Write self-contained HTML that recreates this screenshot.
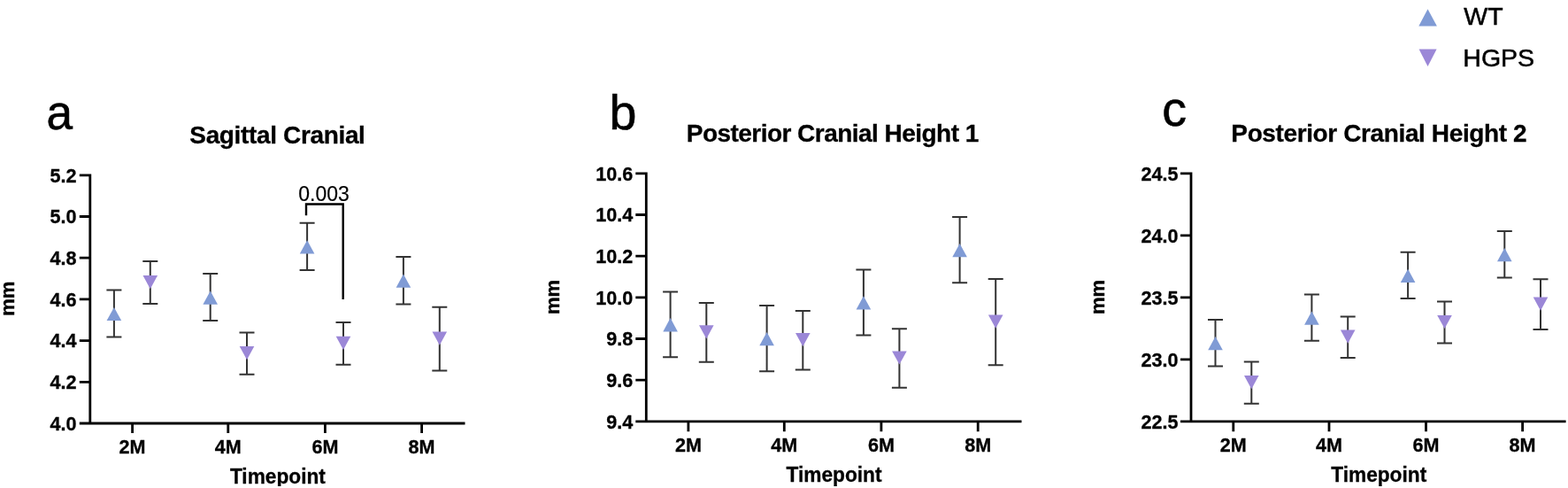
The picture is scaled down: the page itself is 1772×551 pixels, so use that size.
<!DOCTYPE html>
<html><head><meta charset="utf-8"><title>Cranial measurements</title>
<style>
html,body{margin:0;padding:0;background:#fff;}
body{width:1772px;height:551px;overflow:hidden;}
svg{display:block;}
text{font-family:"Liberation Sans",Arial,Helvetica,sans-serif;fill:#000;}
.let{font-size:56px;stroke:#000;stroke-width:0.6px;}
.ttl{font-size:28px;font-weight:bold;stroke:#000;stroke-width:0.3px;}
.tl{font-size:21.6px;font-weight:bold;stroke:#000;stroke-width:0.3px;}
.ax{font-size:22.7px;font-weight:bold;stroke:#000;stroke-width:0.3px;}
.mm{font-size:22px;stroke-width:0.4px;}
.sig{font-size:23px;stroke:#000;stroke-width:0.15px;}
.leg{font-size:28.5px;stroke:#000;stroke-width:0.5px;}
</style></head><body>
<svg width="1772" height="551" viewBox="0 0 1772 551">
<rect width="1772" height="551" fill="#fff"/>
<polygon points="1613.5,10.3 1623.9,29.6 1603.3,29.6" fill="#809bd5"/><polygon points="1603.6,55.6 1623.6,55.6 1613.5,75.1" fill="#9b87d7"/><text class="leg" x="1654.3" y="28.4">WT</text><text class="leg" x="1653.3" y="75.3">HGPS</text>
<path d="M346,243.2V230.5H387.7V338" stroke="#000" stroke-width="2.4" fill="none"/><text class="sig" x="366" y="226.6" text-anchor="middle">0.003</text>
<text class="let" style="font-size:56px" transform="translate(52.4,146) scale(0.95,1)">a</text>
<text class="ttl" x="313.6" y="161.7" text-anchor="middle" textLength="198.6">Sagittal Cranial</text>
<text class="tl" transform="translate(86.6,205.5) scale(1,1.05)" text-anchor="end">5.2</text>
<text class="tl" transform="translate(86.6,252.2) scale(1,1.05)" text-anchor="end">5.0</text>
<text class="tl" transform="translate(86.6,298.9) scale(1,1.05)" text-anchor="end">4.8</text>
<text class="tl" transform="translate(86.6,345.6) scale(1,1.05)" text-anchor="end">4.6</text>
<text class="tl" transform="translate(86.6,392.3) scale(1,1.05)" text-anchor="end">4.4</text>
<text class="tl" transform="translate(86.6,439.0) scale(1,1.05)" text-anchor="end">4.2</text>
<text class="tl" transform="translate(86.6,485.7) scale(1,1.05)" text-anchor="end">4.0</text>
<text class="tl" transform="translate(149.6,512.1) scale(1,1.05)" text-anchor="middle">2M</text>
<text class="tl" transform="translate(257.8,512.1) scale(1,1.05)" text-anchor="middle">4M</text>
<text class="tl" transform="translate(367.4,512.1) scale(1,1.05)" text-anchor="middle">6M</text>
<text class="tl" transform="translate(476.6,512.1) scale(1,1.05)" text-anchor="middle">8M</text>
<path d="M101.8,196.4V478.0 M89.8,478.0H525.5 M89.8,197.8H101.8 M89.8,244.5H101.8 M89.8,291.2H101.8 M89.8,337.9H101.8 M89.8,384.6H101.8 M89.8,431.3H101.8 M89.8,478.0H101.8 M149.6,478.0V489.0 M257.8,478.0V489.0 M367.4,478.0V489.0 M476.6,478.0V489.0" stroke="#000" stroke-width="2.8" fill="none"/>
<text class="ax" transform="translate(313.9,545.9) scale(1,1.045)" text-anchor="middle">Timepoint</text>
<text class="ax mm" transform="translate(15.9,337.3) rotate(-90)" text-anchor="middle">mm</text>
<path d="M128.9,327.4V380.6M120.4,327.4H137.4M120.4,380.6H137.4M169.8,295.1V343.0M161.3,295.1H178.3M161.3,343.0H178.3M237.7,309.0V362.1M229.2,309.0H246.2M229.2,362.1H246.2M279.0,375.5V422.7M270.5,375.5H287.5M270.5,422.7H287.5M347.1,251.8V305.0M338.6,251.8H355.6M338.6,305.0H355.6M388.0,364.1V411.7M379.5,364.1H396.5M379.5,411.7H396.5M455.9,290.0V343.4M447.4,290.0H464.4M447.4,343.4H464.4M496.8,346.8V418.4M488.3,346.8H505.3M488.3,418.4H505.3" stroke="#333333" stroke-width="2.0" fill="none"/>
<polygon points="128.9,346.9 137.2,362.1 120.6,362.1" fill="#809bd5"/>
<polygon points="161.5,310.9 178.1,310.9 169.8,326.2" fill="#9b87d7"/>
<polygon points="237.7,328.4 246.0,343.7 229.4,343.7" fill="#809bd5"/>
<polygon points="270.7,391.0 287.3,391.0 279.0,406.2" fill="#9b87d7"/>
<polygon points="347.1,271.2 355.4,286.5 338.8,286.5" fill="#809bd5"/>
<polygon points="379.7,379.8 396.3,379.8 388.0,395.0" fill="#9b87d7"/>
<polygon points="455.9,309.6 464.2,324.8 447.6,324.8" fill="#809bd5"/>
<polygon points="488.5,374.5 505.1,374.5 496.8,389.8" fill="#9b87d7"/>
<text class="let" style="font-size:55.6px" transform="translate(688.6,146) scale(1,1)">b</text>
<text class="ttl" x="941.0" y="159.8" text-anchor="middle" textLength="330.5">Posterior Cranial Height 1</text>
<text class="tl" transform="translate(715.2,203.5) scale(1,1.05)" text-anchor="end">10.6</text>
<text class="tl" transform="translate(715.2,250.2) scale(1,1.05)" text-anchor="end">10.4</text>
<text class="tl" transform="translate(715.2,296.9) scale(1,1.05)" text-anchor="end">10.2</text>
<text class="tl" transform="translate(715.2,343.6) scale(1,1.05)" text-anchor="end">10.0</text>
<text class="tl" transform="translate(715.2,390.2) scale(1,1.05)" text-anchor="end">9.8</text>
<text class="tl" transform="translate(715.2,436.9) scale(1,1.05)" text-anchor="end">9.6</text>
<text class="tl" transform="translate(715.2,483.6) scale(1,1.05)" text-anchor="end">9.4</text>
<text class="tl" transform="translate(777.9,510.0) scale(1,1.05)" text-anchor="middle">2M</text>
<text class="tl" transform="translate(886.3,510.0) scale(1,1.05)" text-anchor="middle">4M</text>
<text class="tl" transform="translate(995.9,510.0) scale(1,1.05)" text-anchor="middle">6M</text>
<text class="tl" transform="translate(1105.2,510.0) scale(1,1.05)" text-anchor="middle">8M</text>
<path d="M730.3,194.4V475.9 M718.3,475.9H1154.5 M718.3,195.8H730.3 M718.3,242.5H730.3 M718.3,289.2H730.3 M718.3,335.9H730.3 M718.3,382.5H730.3 M718.3,429.2H730.3 M718.3,475.9H730.3 M777.9,475.9V487.3 M886.3,475.9V487.3 M995.9,475.9V487.3 M1105.2,475.9V487.3" stroke="#000" stroke-width="2.8" fill="none"/>
<text class="ax" transform="translate(942.5,543.8) scale(1,1.045)" text-anchor="middle">Timepoint</text>
<text class="ax mm" transform="translate(631.9,335.4) rotate(-90)" text-anchor="middle">mm</text>
<path d="M757.6,329.4V403.2M749.1,329.4H766.1M749.1,403.2H766.1M798.3,341.9V408.8M789.8,341.9H806.8M789.8,408.8H806.8M866.6,345.0V419.2M858.1,345.0H875.1M858.1,419.2H875.1M907.3,351.0V417.4M898.8,351.0H915.8M898.8,417.4H915.8M975.9,304.5V378.4M967.4,304.5H984.4M967.4,378.4H984.4M1016.4,371.2V437.8M1007.9,371.2H1024.9M1007.9,437.8H1024.9M1084.6,245.1V319.3M1076.1,245.1H1093.1M1076.1,319.3H1093.1M1125.2,315.0V412.2M1116.7,315.0H1133.7M1116.7,412.2H1133.7" stroke="#333333" stroke-width="2.0" fill="none"/>
<polygon points="757.6,359.1 765.9,374.4 749.3,374.4" fill="#809bd5"/>
<polygon points="790.0,367.2 806.6,367.2 798.3,382.5" fill="#9b87d7"/>
<polygon points="866.6,375.0 874.9,390.2 858.3,390.2" fill="#809bd5"/>
<polygon points="899.0,376.1 915.6,376.1 907.3,391.3" fill="#9b87d7"/>
<polygon points="975.9,334.3 984.2,349.6 967.6,349.6" fill="#809bd5"/>
<polygon points="1008.1,396.4 1024.7,396.4 1016.4,411.6" fill="#9b87d7"/>
<polygon points="1084.6,275.1 1092.9,290.3 1076.3,290.3" fill="#809bd5"/>
<polygon points="1116.9,355.5 1133.5,355.5 1125.2,370.8" fill="#9b87d7"/>
<text class="let" style="font-size:55.5px" transform="translate(1313.2,142.2) scale(1,1)">c</text>
<text class="ttl" x="1558.5" y="159.8" text-anchor="middle" textLength="334.3">Posterior Cranial Height 2</text>
<text class="tl" transform="translate(1331.4,203.5) scale(1,1.05)" text-anchor="end">24.5</text>
<text class="tl" transform="translate(1331.4,273.5) scale(1,1.05)" text-anchor="end">24.0</text>
<text class="tl" transform="translate(1331.4,343.6) scale(1,1.05)" text-anchor="end">23.5</text>
<text class="tl" transform="translate(1331.4,413.6) scale(1,1.05)" text-anchor="end">23.0</text>
<text class="tl" transform="translate(1331.4,483.6) scale(1,1.05)" text-anchor="end">22.5</text>
<text class="tl" transform="translate(1393.8,510.0) scale(1,1.05)" text-anchor="middle">2M</text>
<text class="tl" transform="translate(1502.0,510.0) scale(1,1.05)" text-anchor="middle">4M</text>
<text class="tl" transform="translate(1611.5,510.0) scale(1,1.05)" text-anchor="middle">6M</text>
<text class="tl" transform="translate(1720.6,510.0) scale(1,1.05)" text-anchor="middle">8M</text>
<path d="M1346.0,194.4V475.9 M1334.0,475.9H1769.6 M1334.0,195.8H1346.0 M1334.0,265.8H1346.0 M1334.0,335.9H1346.0 M1334.0,405.9H1346.0 M1334.0,475.9H1346.0 M1393.8,475.9V487.3 M1502.0,475.9V487.3 M1611.5,475.9V487.3 M1720.6,475.9V487.3" stroke="#000" stroke-width="2.8" fill="none"/>
<text class="ax" transform="translate(1558.2,543.8) scale(1,1.045)" text-anchor="middle">Timepoint</text>
<text class="ax mm" transform="translate(1247.7,335.4) rotate(-90)" text-anchor="middle">mm</text>
<path d="M1373.5,360.9V413.4M1365.0,360.9H1382.0M1365.0,413.4H1382.0M1414.3,408.4V455.7M1405.8,408.4H1422.8M1405.8,455.7H1422.8M1482.4,332.4V384.7M1473.9,332.4H1490.9M1473.9,384.7H1490.9M1523.2,357.5V403.9M1514.7,357.5H1531.7M1514.7,403.9H1531.7M1591.1,284.8V337.1M1582.6,284.8H1599.6M1582.6,337.1H1599.6M1632.5,340.4V387.6M1624.0,340.4H1641.0M1624.0,387.6H1641.0M1700.3,260.9V313.5M1691.8,260.9H1708.8M1691.8,313.5H1708.8M1741.0,315.3V371.9M1732.5,315.3H1749.5M1732.5,371.9H1749.5" stroke="#333333" stroke-width="2.0" fill="none"/>
<polygon points="1373.5,380.0 1381.8,395.3 1365.2,395.3" fill="#809bd5"/>
<polygon points="1406.0,423.9 1422.6,423.9 1414.3,439.2" fill="#9b87d7"/>
<polygon points="1482.4,351.4 1490.7,366.7 1474.1,366.7" fill="#809bd5"/>
<polygon points="1514.9,372.6 1531.5,372.6 1523.2,387.8" fill="#9b87d7"/>
<polygon points="1591.1,303.8 1599.4,319.1 1582.8,319.1" fill="#809bd5"/>
<polygon points="1624.2,355.9 1640.8,355.9 1632.5,371.1" fill="#9b87d7"/>
<polygon points="1700.3,280.1 1708.6,295.3 1692.0,295.3" fill="#809bd5"/>
<polygon points="1732.7,335.5 1749.3,335.5 1741.0,350.8" fill="#9b87d7"/>
<rect x="0" y="549" width="1772" height="2" fill="#fff"/>
</svg>
</body></html>
